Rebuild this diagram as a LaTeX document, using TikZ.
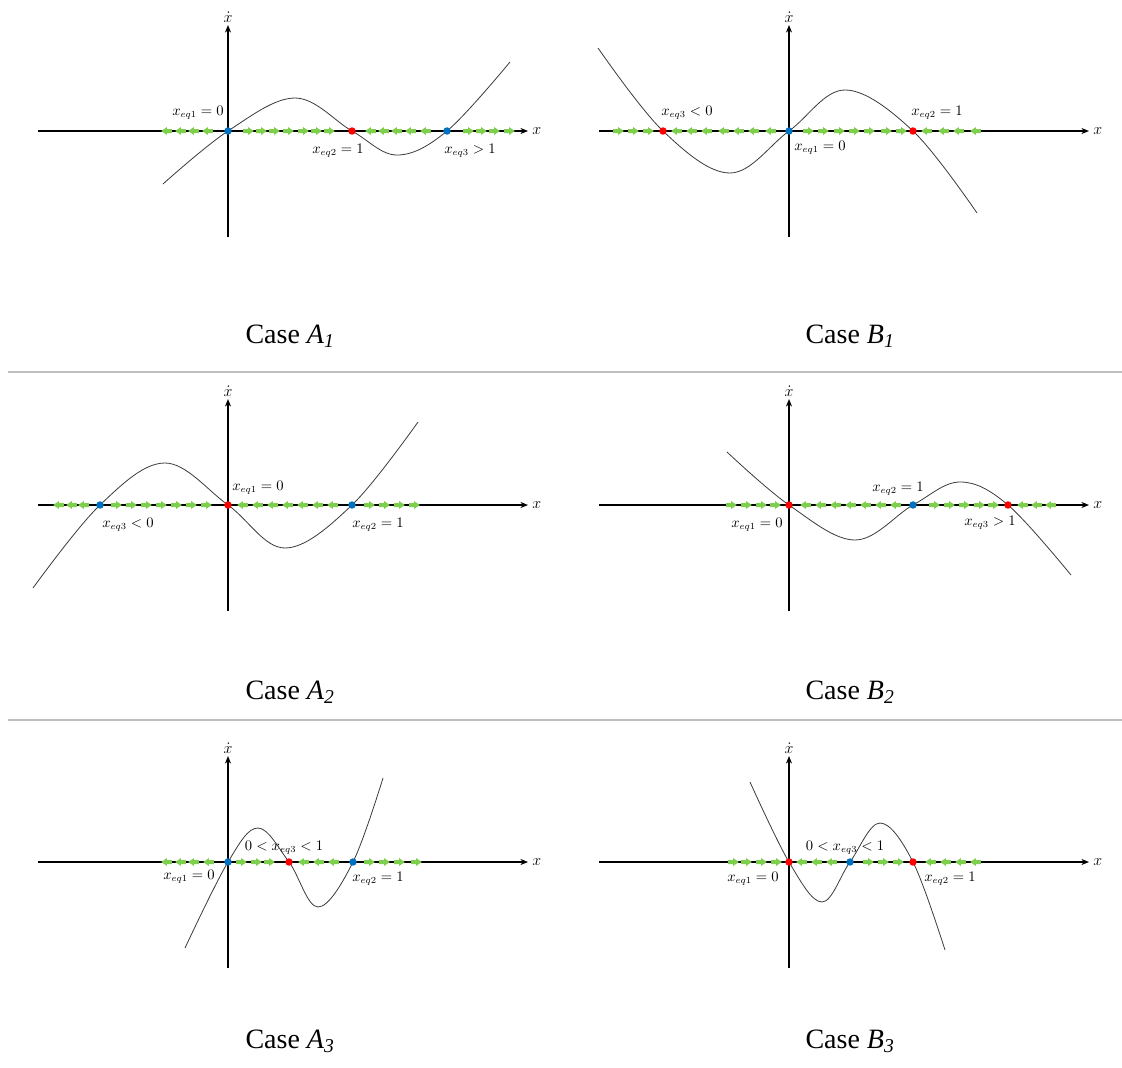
\documentclass[tikz,border=0pt]{standalone}
\usepackage{amsmath}
\usepackage{fontspec}
\setmainfont{Liberation Serif}
\usepackage{tikz}
\usetikzlibrary{arrows.meta,positioning,shapes.arrows}
\definecolor{trajgray}{HTML}{3A3A3A}
\definecolor{flowgreen}{HTML}{7ECF4E}
\definecolor{stabred}{HTML}{FF0000}
\definecolor{unstabblue}{HTML}{0070C0}
\definecolor{rulegray}{HTML}{BFBFBF}
\tikzset{
  axis/.style={-{Stealth[length=2mm,width=1.6mm]}, line width=0.9pt, draw=black},
  traj/.style={draw=trajgray, line width=0.6pt},
  flowr/.style={single arrow, fill=flowgreen, draw=none, inner sep=1.3pt,
                minimum height=8pt, single arrow head extend=1.5pt,
                single arrow tip angle=70},
  flowl/.style={flowr, shape border rotate=180},
  stable/.style={circle, fill=stabred, inner sep=0pt, minimum size=5.6pt},
  unstable/.style={stable, fill=unstabblue},
  eqlabel/.style={font=\fontsize{10.5}{12}\selectfont, inner sep=1pt},
  axlabel/.style={font=\fontsize{12.5}{14}\selectfont, inner sep=1pt},
  casecap/.style={font=\fontsize{21}{25}\selectfont},
  divider/.style={draw=rulegray, line width=1.1pt}
}
% axes of one panel, drawn round the local origin
\newcommand{\phaseaxes}{%
  \coordinate (xl) at (-190,0); \coordinate (xr) at (300,0);
  \coordinate (yb) at (0,106);  \coordinate (yt) at (0,-106);
  \draw[axis] (xl) -- (xr);
  \draw[axis] (yb) -- (yt);
  \node[axlabel,right=2pt of xr] (xlab) {$x$};
  \node[axlabel,above=1pt of yt] (ylab) {$\dot{x}$};}
\begin{document}
\begin{tikzpicture}[x=0.75pt,y=-0.75pt]
  \useasboundingbox (0,0) rectangle (1122,1068);

  % case A1
  \begin{scope}[shift={(228,131)}]
    \phaseaxes
    \draw[traj] plot[smooth, tension=0.6] coordinates
      {(-65,53) (0,0) (67,-33) (124,0) (169,24) (219,0) (282,-69)};
    \foreach \p [count=\i] in {-60,-46,-33,-19} \node[flowl] (A1a\i) at (\p,0) {};
    \foreach \p [count=\i] in {19,32,45,59,74,87,100} \node[flowr] (A1b\i) at (\p,0) {};
    \foreach \p [count=\i] in {144,157,170,184,199} \node[flowl] (A1c\i) at (\p,0) {};
    \foreach \p [count=\i] in {239,252,265,280} \node[flowr] (A1d\i) at (\p,0) {};
    \node[unstable] (A1e1) at (0,0) {};
    \node[stable] (A1e2) at (124,0) {};
    \node[unstable] (A1e3) at (219,0) {};
    \node[eqlabel] (A1l1) at (-30,-18) {$x_{eq1} = 0$};
    \node[eqlabel] (A1l2) at (110,20) {$x_{eq2} = 1$};
    \node[eqlabel] (A1l3) at (242,20) {$x_{eq3} > 1$};
  \end{scope}
  \node[casecap] (capA1) at (290,336) {Case \textit{A\textsubscript{1}}};

  % case B1
  \begin{scope}[shift={(789,131)}]
    \phaseaxes
    \draw[traj] plot[smooth, tension=0.6] coordinates
      {(-191,-83) (-126,0) (-59,42) (0,0) (56,-41) (124,0) (188,82)};
    \foreach \p [count=\i] in {-172,-157,-142} \node[flowr] (B1a\i) at (\p,0) {};
    \foreach \p [count=\i] in {-111,-96,-81,-64,-49,-34,-17} \node[flowl] (B1b\i) at (\p,0) {};
    \foreach \p [count=\i] in {18,33,49,64,79,96,111} \node[flowr] (B1c\i) at (\p,0) {};
    \foreach \p [count=\i] in {139,156,171,188} \node[flowl] (B1d\i) at (\p,0) {};
    \node[stable] (B1e3) at (-126,0) {};
    \node[unstable] (B1e1) at (0,0) {};
    \node[stable] (B1e2) at (124,0) {};
    \node[eqlabel] (B1l3) at (-102,-18) {$x_{eq3} < 0$};
    \node[eqlabel] (B1l1) at (31,17) {$x_{eq1} = 0$};
    \node[eqlabel] (B1l2) at (148,-18) {$x_{eq2} = 1$};
  \end{scope}
  \node[casecap] (capB1) at (850,336) {Case \textit{B\textsubscript{1}}};

  \coordinate (r1l) at (8,372); \coordinate (r1r) at (1122,372);
  \draw[divider] (r1l) -- (r1r);

  % case A2
  \begin{scope}[shift={(228,505)}]
    \phaseaxes
    \draw[traj] plot[smooth, tension=0.6] coordinates
      {(-195,83) (-128,0) (-63,-42) (0,0) (57,43) (124,0) (190,-83)};
    \foreach \p [count=\i] in {-168,-155,-143} \node[flowl] (A2a\i) at (\p,0) {};
    \foreach \p [count=\i] in {-113,-98,-83,-68,-53,-38,-23} \node[flowr] (A2b\i) at (\p,0) {};
    \foreach \p [count=\i] in {16,31,46,61,76,91,106} \node[flowl] (A2c\i) at (\p,0) {};
    \foreach \p [count=\i] in {140,155,170,185} \node[flowr] (A2d\i) at (\p,0) {};
    \node[unstable] (A2e3) at (-128,0) {};
    \node[stable] (A2e1) at (0,0) {};
    \node[unstable] (A2e2) at (124,0) {};
    \node[eqlabel] (A2l1) at (30,-17) {$x_{eq1} = 0$};
    \node[eqlabel] (A2l3) at (-100,20) {$x_{eq3} < 0$};
    \node[eqlabel] (A2l2) at (150,20) {$x_{eq2} = 1$};
  \end{scope}
  \node[casecap] (capA2) at (290,692) {Case \textit{A\textsubscript{2}}};

  % case B2
  \begin{scope}[shift={(789,505)}]
    \phaseaxes
    \draw[traj] plot[smooth, tension=0.6] coordinates
      {(-62,-53) (0,0) (66,35) (124,0) (171,-23) (219,0) (282,70)};
    \foreach \p [count=\i] in {-59,-44,-29,-15} \node[flowr] (B2a\i) at (\p,0) {};
    \foreach \p [count=\i] in {18,33,48,63,78,93,108} \node[flowl] (B2b\i) at (\p,0) {};
    \foreach \p [count=\i] in {144,159,174,189,203} \node[flowr] (B2c\i) at (\p,0) {};
    \foreach \p [count=\i] in {235,249,263} \node[flowl] (B2d\i) at (\p,0) {};
    \node[stable] (B2e1) at (0,0) {};
    \node[unstable] (B2e2) at (124,0) {};
    \node[stable] (B2e3) at (219,0) {};
    \node[eqlabel] (B2l2) at (109,-16) {$x_{eq2} = 1$};
    \node[eqlabel] (B2l1) at (-32,20) {$x_{eq1} = 0$};
    \node[eqlabel] (B2l3) at (201,18) {$x_{eq3} > 1$};
  \end{scope}
  \node[casecap] (capB2) at (850,692) {Case \textit{B\textsubscript{2}}};

  \coordinate (r2l) at (8,720); \coordinate (r2r) at (1122,720);
  \draw[divider] (r2l) -- (r2r);

  % case A3
  \begin{scope}[shift={(228,862)}]
    \phaseaxes
    \draw[traj] plot[smooth, tension=0.6] coordinates
      {(-43,86) (0,0) (30,-34) (61,0) (90,45) (125,0) (155,-84)};
    \foreach \p [count=\i] in {-60,-46,-33,-18} \node[flowl] (A3a\i) at (\p,0) {};
    \foreach \p [count=\i] in {12,27,40} \node[flowr] (A3b\i) at (\p,0) {};
    \foreach \p [count=\i] in {77,92,107} \node[flowl] (A3c\i) at (\p,0) {};
    \foreach \p [count=\i] in {140,155,170,187} \node[flowr] (A3d\i) at (\p,0) {};
    \node[unstable] (A3e1) at (0,0) {};
    \node[stable] (A3e3) at (61,0) {};
    \node[unstable] (A3e2) at (125,0) {};
    \node[eqlabel] (A3l3) at (56,-14) {$0 < x_{eq3} < 1$};
    \node[eqlabel] (A3l1) at (-39,15) {$x_{eq1} = 0$};
    \node[eqlabel] (A3l2) at (150,17) {$x_{eq2} = 1$};
  \end{scope}
  \node[casecap] (capA3) at (290,1041) {Case \textit{A\textsubscript{3}}};

  % case B3
  \begin{scope}[shift={(789,862)}]
    \phaseaxes
    \draw[traj] plot[smooth, tension=0.6] coordinates
      {(-39,-80) (0,0) (33,40) (61,0) (91,-39) (124,0) (156,88)};
    \foreach \p [count=\i] in {-57,-44,-29,-14} \node[flowr] (B3a\i) at (\p,0) {};
    \foreach \p [count=\i] in {14,29,44} \node[flowl] (B3b\i) at (\p,0) {};
    \foreach \p [count=\i] in {78,93,108} \node[flowr] (B3c\i) at (\p,0) {};
    \foreach \p [count=\i] in {143,158,173,188} \node[flowl] (B3d\i) at (\p,0) {};
    \node[stable] (B3e1) at (0,0) {};
    \node[unstable] (B3e3) at (61,0) {};
    \node[stable] (B3e2) at (124,0) {};
    \node[eqlabel] (B3l3) at (56,-14) {$0 < x_{eq3} < 1$};
    \node[eqlabel] (B3l1) at (-36,17) {$x_{eq1} = 0$};
    \node[eqlabel] (B3l2) at (161,17) {$x_{eq2} = 1$};
  \end{scope}
  \node[casecap] (capB3) at (850,1041) {Case \textit{B\textsubscript{3}}};
\end{tikzpicture}
\end{document}
